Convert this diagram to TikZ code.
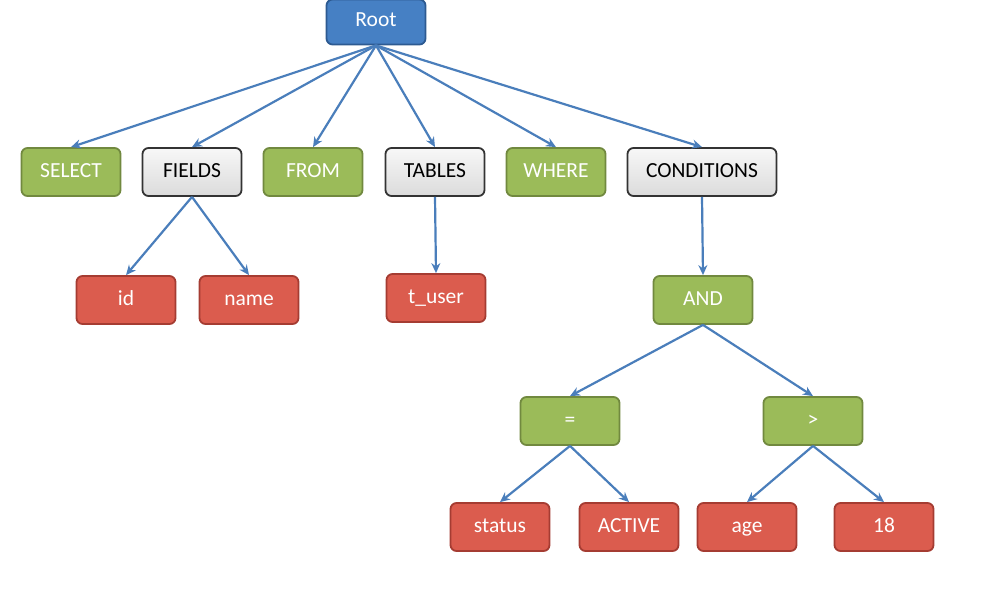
\documentclass[tikz,border=0pt]{standalone}
\usepackage{fontspec}
\setmainfont{Carlito}
\usetikzlibrary{arrows.meta}
\definecolor{azul}{RGB}{70,128,196}
\definecolor{azulborde}{RGB}{45,90,145}
\definecolor{verde}{RGB}{155,187,89}
\definecolor{verdeborde}{RGB}{113,137,63}
\definecolor{rojo}{RGB}{219,92,78}
\definecolor{rojoborde}{RGB}{165,60,50}
\definecolor{flecha}{RGB}{74,126,187}
\tikzset{
  caja/.style={rounded corners=6pt, line width=1.8pt, minimum width=99pt, minimum height=48pt,
    font=\fontsize{21.5}{24}\selectfont, inner sep=2pt, text height=14pt, text depth=4pt},
  raiz/.style={caja, fill=azul, draw=azulborde, text=white, minimum height=45pt},
  palabra/.style={caja, fill=verde, draw=verdeborde, text=white},
  lista/.style={caja, top color=gray!6, bottom color=gray!28, draw=black!80, text=black},
  valor/.style={caja, fill=rojo, draw=rojoborde, text=white},
  rama/.style={draw=flecha, line width=2.2pt, -{Stealth[length=10pt,width=9pt]}}
}
\begin{document}
\begin{tikzpicture}[x=1pt,y=-1pt]
  \useasboundingbox (0,0) rectangle (1008,589);

  % Raiz
  \node[raiz] (root) at (376,22) {Root};

  % Primer nivel
  \node[palabra] (select) at (71,172) {SELECT};
  \node[lista] (fields) at (192,172) {FIELDS};
  \node[palabra] (from) at (313,172) {FROM};
  \node[lista] (tables) at (435,172) {TABLES};
  \node[palabra] (where) at (556,172) {WHERE};
  \node[lista, minimum width=149pt] (conditions) at (702,172) {CONDITIONS};

  % Segundo nivel
  \node[valor] (id) at (126,300) {id};
  \node[valor] (name) at (249,300) {name};
  \node[valor] (tuser) at (436,298) {t\_user};
  \node[palabra] (and) at (703,300) {AND};

  % Condiciones
  \node[palabra] (eq) at (570,421) {=};
  \node[palabra] (gt) at (813,421) {>};
  \node[valor] (status) at (500,527) {status};
  \node[valor] (active) at (629,527) {ACTIVE};
  \node[valor] (age) at (747,527) {age};
  \node[valor] (num) at (884,527) {18};

  % Flechas
  \foreach \hijo in {select,fields,from,tables,where,conditions}
    \draw[rama] (root.south) -- (\hijo.north);
  \draw[rama] (fields.south) -- (id.north);
  \draw[rama] (fields.south) -- (name.north);
  \draw[rama] (tables.south) -- (tuser.north);
  \draw[rama] (conditions.south) -- (and.north);
  \draw[rama] (and.south) -- (eq.north);
  \draw[rama] (and.south) -- (gt.north);
  \draw[rama] (eq.south) -- (status.north);
  \draw[rama] (eq.south) -- (active.north);
  \draw[rama] (gt.south) -- (age.north);
  \draw[rama] (gt.south) -- (num.north);
\end{tikzpicture}
\end{document}
